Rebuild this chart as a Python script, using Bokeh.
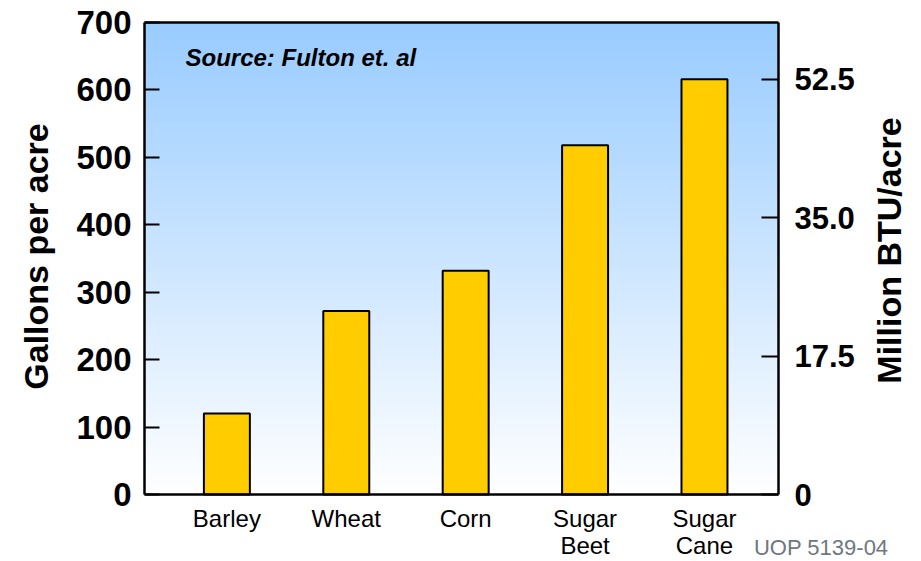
import math
import numpy as np
from bokeh.plotting import figure
from bokeh.models import Range1d, LinearAxis, FixedTicker, Label
from bokeh.embed import file_html
from bokeh.resources import INLINE

# ---- data ----
crops = ["Barley", "Wheat", "Corn", "Sugar\nBeet", "Sugar\nCane"]
gallons_per_acre = [120, 272, 332, 518, 616]
left_ticks = [0, 100, 200, 300, 400, 500, 600, 700]
right_ticks = [0, 17.5, 35.0, 52.5]
right_tick_labels = ["0", "17.5", "35.0", "52.5"]
btu_per_gallon = 52.5 / 616  # million BTU per gallon (right axis scale)

idx = list(range(len(crops)))
y_max = 700

# ---- layout geometry (pixels) ----
W, H = 920, 560
box_l, box_r, box_t, box_b = 144, 778, 22, 494
box_x0, box_x1 = -0.69, len(crops) - 1 + 0.62          # x extent of the chart box
pxu_x = (box_r - box_l) / (box_x1 - box_x0)
pxu_y = (box_b - box_t) / y_max
x_lo = box_x0 - box_l / pxu_x
x_hi = box_x1 + (W - box_r) / pxu_x
y_hi = y_max + box_t / pxu_y
y_lo = -(H - box_b) / pxu_y

def px_x(px):
    return x_lo + px / pxu_x

def px_y(py):
    return (box_b - py) / pxu_y

p = figure(width=W, height=H, output_backend="svg", toolbar_location=None,
           x_range=Range1d(x_lo, x_hi), y_range=Range1d(y_lo, y_hi),
           min_border_left=0, min_border_right=0, min_border_top=0, min_border_bottom=0)
p.background_fill_color = "white"
p.border_fill_color = "white"
p.outline_line_color = None
p.xgrid.grid_line_color = None
p.ygrid.grid_line_color = None

xa = p.below[0]
ya = p.left[0]

# gradient background (light blue at top fading to white)
n = 256
t = np.linspace(0, 1, n)  # 0 bottom -> 1 top
top = np.array([153, 204, 255])
bot = np.array([255, 255, 255])
cols = (bot[None, :] * (1 - t[:, None]) + top[None, :] * t[:, None]).astype(np.uint8)
img = np.empty((n, 1), dtype=np.uint32)
view = img.view(dtype=np.uint8).reshape((n, 1, 4))
view[:, 0, 0] = cols[:, 0]
view[:, 0, 1] = cols[:, 1]
view[:, 0, 2] = cols[:, 2]
view[:, 0, 3] = 255
p.image_rgba(image=[img], x=box_x0, y=0, dw=box_x1 - box_x0, dh=y_max)

# bars
p.vbar(x=idx, top=gallons_per_acre, width=0.385, fill_color="#FFCC00",
       line_color="black", line_width=2)

FONT = "Liberation Sans"

# left axis (drawn at the left edge of the box)
ya.fixed_location = box_x0
ya.bounds = (0, y_max)
ya.ticker = FixedTicker(ticks=left_ticks)
ya.major_tick_in = 15
ya.major_tick_out = 0
ya.major_tick_line_width = 2
ya.minor_tick_line_color = None
ya.axis_line_color = "black"
ya.axis_line_width = 2.5
ya.major_label_text_font = FONT
ya.major_label_text_font_style = "bold"
ya.major_label_text_font_size = "33px"
ya.major_label_text_color = "black"
ya.major_label_standoff = 13

# bottom axis, drawn at y = 0 (the base of the box)
xa.fixed_location = 0
xa.bounds = (box_x0, box_x1)
xa.ticker = FixedTicker(ticks=idx)
xa.major_label_overrides = {i: c for i, c in zip(idx, crops)}
xa.major_tick_line_color = None
xa.minor_tick_line_color = None
xa.axis_line_color = "black"
xa.axis_line_width = 2.5
xa.major_label_text_font = FONT
xa.major_label_text_font_size = "24px"
xa.major_label_text_color = "black"
xa.major_label_text_line_height = 1.0
xa.major_label_standoff = 4

# right axis (drawn at the right edge of the box)
p.extra_y_ranges = {"btu": Range1d(y_lo * btu_per_gallon, y_hi * btu_per_gallon)}
ra = LinearAxis(y_range_name="btu")
ra.fixed_location = box_x1
ra.bounds = (0, y_max * btu_per_gallon)
ra.ticker = FixedTicker(ticks=right_ticks)
ra.major_label_overrides = {v: s for v, s in zip(right_ticks, right_tick_labels)}
ra.major_tick_in = 17
ra.major_tick_out = 0
ra.major_tick_line_width = 2
ra.minor_tick_line_color = None
ra.axis_line_color = "black"
ra.axis_line_width = 2.5
ra.major_label_text_font = FONT
ra.major_label_text_font_style = "bold"
ra.major_label_text_font_size = "31px"
ra.major_label_text_color = "black"
ra.major_label_standoff = 16
p.add_layout(ra, "right")

# top edge of the box
ta = LinearAxis()
ta.fixed_location = y_max
ta.bounds = (box_x0, box_x1)
ta.ticker = FixedTicker(ticks=[])
ta.major_tick_line_color = None
ta.minor_tick_line_color = None
ta.major_label_text_color = None
ta.axis_line_color = "black"
ta.axis_line_width = 2.5
p.add_layout(ta, "above")

# axis titles and notes
p.add_layout(Label(x=px_x(35), y=px_y(256), text="Gallons per acre", angle=math.pi / 2,
                   text_font=FONT, text_font_style="bold", text_font_size="34px",
                   text_color="black", text_align="center", text_baseline="middle"))
p.add_layout(Label(x=px_x(888), y=px_y(250), text="Million BTU/acre", angle=math.pi / 2,
                   text_font=FONT, text_font_style="bold", text_font_size="34px",
                   text_color="black", text_align="center", text_baseline="middle"))
p.add_layout(Label(x=px_x(185), y=px_y(57),
                   text="Source: Fulton et. al", text_font=FONT, text_font_style="bold italic",
                   text_font_size="24px", text_color="black", text_baseline="middle"))
p.add_layout(Label(x=px_x(888), y=px_y(547), text="UOP 5139-04", text_align="right",
                   text_font=FONT, text_font_size="22px", text_color="#6E7781",
                   text_baseline="middle"))

open("out.html", "w").write(file_html(p, INLINE))
